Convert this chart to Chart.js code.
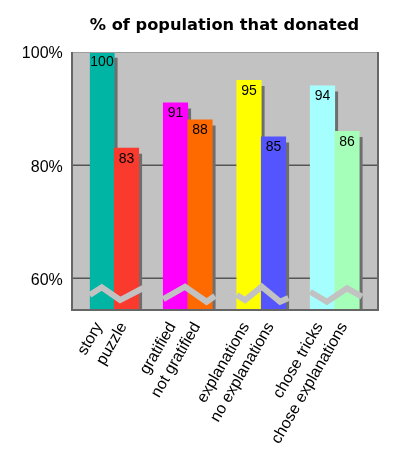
<!DOCTYPE html>
<html><head><meta charset="utf-8">
<script src="https://cdn.jsdelivr.net/npm/chart.js@4.4.1/dist/chart.umd.min.js"></script>
<style>html,body{margin:0;padding:0;background:#fff;}</style>
</head><body>
<canvas id="c" width="393" height="468"></canvas>
<script>
const categories = ['story', 'puzzle', 'gratified', 'not gratified', 'explanations', 'no explanations', 'chose tricks', 'chose explanations'];
const values = [100, 83, 91, 88, 95, 85, 94, 86];
const barColors = ['#00b5a3', '#f93a2d', '#ff00ff', '#ff6a00', '#ffff00', '#5555ff', '#a6ffff', '#a6ffb8'];
const yTicks = [60, 80, 100];
const yMin = 54.4, yMax = 100;
const groupSize = 2;

// build category table with an empty spacer slot between pairs
const labels = [], data = [], colors = [], groupStart = [];
categories.forEach((c, i) => {
  if (i > 0 && i % groupSize === 0) { labels.push(''); data.push(null); colors.push('rgba(0,0,0,0)'); }
  if (i % groupSize === 0) groupStart.push(labels.length);
  labels.push(c); data.push(values[i]); colors.push(barColors[i]);
});

// axis-break zigzag: [offset in bar widths from the group's first bar left edge, value]
const breakMarks = [
  [[0, 57.06], [0.49, 58.41], [1.24, 56.16], [2.18, 58.29]],
  [[0, 56.34], [0.89, 58.52], [1.77, 55.86], [2.11, 56.87]],
  [[0, 57.05], [0.34, 56.16], [1.02, 58.52], [1.77, 55.86], [2.11, 56.52]],
  [[0, 57.63], [0.68, 55.86], [1.5, 58.23], [2.11, 56.75]]
];

const EXT_L = 17.75, EXT_R = 18.75;

const decor = {
  id: 'decor',
  beforeDatasetsDraw(chart) {
    const { ctx, chartArea: a, scales: { y } } = chart;
    const L = a.left - EXT_L, R = a.right + EXT_R;
    ctx.save();
    ctx.fillStyle = '#c2c2c2';
    ctx.fillRect(L, a.top, R - L, a.bottom - a.top);
    ctx.strokeStyle = '#555';
    ctx.lineWidth = 1.5;
    y.ticks.forEach(t => {
      if (t.value >= yMax) return;
      const py = y.getPixelForValue(t.value);
      ctx.beginPath(); ctx.moveTo(L, py); ctx.lineTo(R, py); ctx.stroke();
    });
    ctx.restore();
  },
  beforeDatasetDraw(chart) {
    const c = chart.ctx;
    c.save();
    c.shadowColor = '#6e6e6e'; c.shadowOffsetX = 3; c.shadowOffsetY = 6; c.shadowBlur = 0;
  },
  afterDatasetDraw(chart) { chart.ctx.restore(); },
  afterDatasetsDraw(chart) {
    const { ctx, chartArea: a, scales: { y } } = chart;
    const meta = chart.getDatasetMeta(0);
    const L = a.left - EXT_L, R = a.right + EXT_R;
    ctx.save();
    // zigzag breaks
    ctx.strokeStyle = '#c2c2c2';
    ctx.lineWidth = 6;
    ctx.lineJoin = 'miter';
    breakMarks.forEach((pts, g) => {
      const el = meta.data[groupStart[g]];
      const left = el.x - el.width / 2;
      ctx.beginPath();
      pts.forEach(([f, v], k) => {
        const px = left + f * el.width, py = y.getPixelForValue(v);
        if (k === 0) ctx.moveTo(px, py); else ctx.lineTo(px, py);
      });
      ctx.stroke();
    });
    // value labels
    ctx.fillStyle = '#000';
    ctx.font = '14px "Liberation Sans", Arial, sans-serif';
    ctx.textAlign = 'center';
    ctx.textBaseline = 'middle';
    meta.data.forEach((el, i) => {
      const v = data[i];
      if (v == null) return;
      ctx.fillText(String(v), el.x, el.y + 10.5);
    });
    // frame
    ctx.strokeStyle = '#9c9c9c'; ctx.lineWidth = 1;
    ctx.beginPath(); ctx.moveTo(L, a.top + 0.5); ctx.lineTo(R, a.top + 0.5); ctx.stroke();
    ctx.strokeStyle = '#666'; ctx.lineWidth = 2;
    ctx.beginPath();
    ctx.moveTo(L, a.top); ctx.lineTo(L, a.bottom);
    ctx.moveTo(R, a.top); ctx.lineTo(R, a.bottom);
    ctx.moveTo(L - 1, a.bottom); ctx.lineTo(R + 1, a.bottom);
    ctx.stroke();
    ctx.restore();
  }
};

new Chart(document.getElementById('c'), {
  type: 'bar',
  data: {
    labels,
    datasets: [{
      data, backgroundColor: colors, borderWidth: 0,
      categoryPercentage: 1, barPercentage: 1,
      clip: { left: 0, top: 0, right: 6, bottom: 0 }
    }]
  },
  options: {
    responsive: false, animation: false, devicePixelRatio: 1,
    layout: { padding: { left: 0, right: 33.75, top: 0, bottom: 0 } },
    plugins: {
      legend: { display: false },
      tooltip: { enabled: false },
      title: {
        display: true, text: '% of population that donated', fullSize: false,
        color: '#000', font: { family: 'DejaVu Sans', size: 16.5, weight: 'bold', lineHeight: 1.2 },
        padding: { top: 16, bottom: 16.2 }
      }
    },
    scales: {
      x: {
        grid: { display: false, drawTicks: false }, border: { display: false },
        ticks: { autoSkip: false, minRotation: 60, maxRotation: 60, color: '#000',
                 font: { family: 'Liberation Sans', size: 16 }, padding: 9, labelOffset: -3 },
        afterFit: s => { s.height = 158; }
      },
      y: {
        min: yMin, max: yMax,
        grid: { display: false, drawTicks: false }, border: { display: false },
        ticks: { color: '#000', font: { family: 'Liberation Sans', size: 16 }, padding: 27,
                 labelOffset: 2, callback: v => v + '%' },
        afterBuildTicks: s => { s.ticks = yTicks.map(v => ({ value: v })); },
        afterFit: s => { s.width = 89.75; }
      }
    }
  },
  plugins: [decor]
});
</script>
</body></html>
